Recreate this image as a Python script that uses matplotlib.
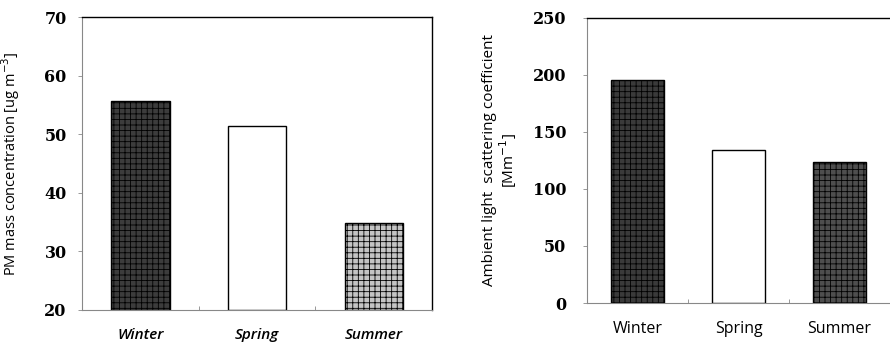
import matplotlib.pyplot as plt
import numpy as np

seasons = ["Winter", "Spring", "Summer"]
pm_mass = [55.7, 51.4, 34.8]
scattering = [196, 134, 124]
pm_ticks = [20, 30, 40, 50, 60, 70]
sc_ticks = [0, 50, 100, 150, 200, 250]

plt.rcParams["hatch.color"] = "#808080"
plt.rcParams["hatch.linewidth"] = 0.6

fig = plt.figure(figsize=(8.9, 3.46), dpi=100)
ax1 = fig.add_axes([82/890, 1 - 310/346, 350/890, 293/346])
ax2 = fig.add_axes([587/890, 1 - 303/346, 310/890, 285/346])

x = np.arange(3)

def style(ax, ticks, label, pad):
    for s in ["left", "bottom"]:
        ax.spines[s].set_linestyle((0, (1, 1)))
        ax.spines[s].set_color("#888888")
        ax.spines[s].set_linewidth(0.8)
    ax.spines["top"].set_linewidth(1.0)
    ax.spines["right"].set_linewidth(1.0)
    ax.set_yticks(ticks)
    ax.set_ylim(ticks[0], ticks[-1])
    ax.set_xlim(-0.5, 2.5)
    ax.set_xticks([0.5, 1.5])
    ax.set_xticklabels([])
    ax.tick_params(axis="x", length=3, color="#888888", width=0.6, direction="in")
    ax.tick_params(axis="y", length=3, color="#888888", width=0.6, direction="out", pad=pad)
    for t in ax.get_yticklabels():
        t.set_family("DejaVu Serif")
        t.set_fontweight("bold")
        t.set_fontsize(11.5)
    ax.set_ylabel(label, fontsize=10.5, family="Open Sans")

# left chart
colors1 = ["#3c3c3c", "white", "#c4c4c4"]
hatches1 = ["+++", None, "+++"]
for i in range(3):
    ax1.bar(x[i], pm_mass[i] - 20, bottom=20, width=0.5, color=colors1[i],
            edgecolor="black", linewidth=1.0, hatch=hatches1[i])
style(ax1, pm_ticks, "PM mass concentration [ug m$^{-3}$]", 8)
ax1.yaxis.set_label_coords(-0.17, 0.5)
for i, s in enumerate(seasons):
    ax1.text(x[i], 17.0, s, ha="center", va="top", fontsize=11,
             family="Open Sans", style="italic", fontweight="semibold")

# right chart
colors2 = ["#3a3a3a", "white", "#4e4e4e"]
hatches2 = ["+++", None, "+++"]
for i in range(3):
    ax2.bar(x[i], scattering[i], width=0.53, color=colors2[i],
            edgecolor="black", linewidth=1.0, hatch=hatches2[i])
style(ax2, sc_ticks, "Ambient light  scattering coefficient\n[Mm$^{-1}$]", 12)
ax2.yaxis.label.set_fontsize(11)
ax2.spines["right"].set_visible(False)
ax2.set_xlim(-0.5, 2.57)
ax2.yaxis.set_label_coords(-0.22, 0.5)
ax2.yaxis.label.set_linespacing(1.0)
for i, s in enumerate(seasons):
    ax2.text(x[i], -16, s, ha="center", va="top", fontsize=11.5, family="Open Sans")

fig.savefig("out.png", dpi=100)
